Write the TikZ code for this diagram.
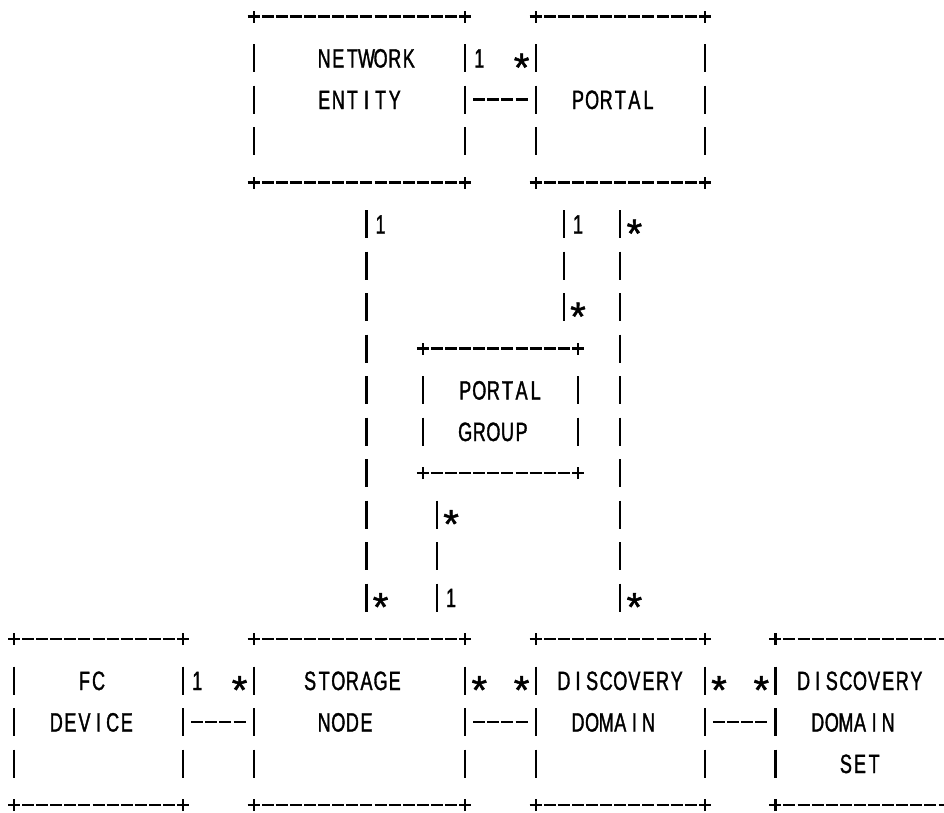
\documentclass[tikz,border=0pt]{standalone}
\usepackage{fontspec}
\newfontfamily\asciifont[FakeStretch=0.68,FakeBold=1.3]{Liberation Sans}
\newfontfamily\starfont[FakeBold=1.2]{Liberation Sans}
\newcommand\cells[1]{\cellsA#1\relax}
\def\cellsA#1{\ifx\relax#1\else\makebox[14.1pt][c]{#1}\expandafter\cellsA\fi}
\tikzset{
  gl/.style={line width=2.2pt, black},
  hdash/.style={gl, dash pattern=on 12pt off 2.1pt, shorten <=8.05pt, shorten >=8.05pt},
  vdash/.style={gl, dash pattern=on 28pt off 13.5pt, shorten <=27.5pt, shorten >=27.5pt},
  boxn/.style={draw=none, inner sep=0pt, outer sep=0pt, rectangle},
  txt/.style={inner sep=0pt, outer sep=0pt, font=\asciifont\fontsize{26.5}{26.5}\selectfont, anchor=base west},
  lab/.style={inner sep=0pt, outer sep=0pt, font=\asciifont\fontsize{26.5}{26.5}\selectfont, anchor=base},
  astl/.style={inner sep=0pt, outer sep=0pt, font=\starfont\fontsize{40}{40}\selectfont, anchor=base},
}
% name c1 r1 c2 r2
\newcommand\asciibox[5]{%
  \pgfmathsetmacro\bw{(#4-#2)*14.1}%
  \pgfmathsetmacro\bh{(#5-#3)*41.5}%
  \node[boxn, minimum width=\bw pt, minimum height=\bh pt] (#1) at ({14+14.1*(#2+#4)/2},{16.5+41.5*(#3+#5)/2}) {};
  \draw[hdash] (#1.north west) -- (#1.north east);
  \draw[hdash] (#1.south west) -- (#1.south east);
  \draw[vdash] (#1.north west) -- (#1.south west);
  \draw[vdash] (#1.north east) -- (#1.south east);
  \foreach \a in {north west, north east, south west, south east}
    {\draw[gl] (#1.\a) +(-6pt,0pt) -- +(6pt,0pt) +(0pt,-6pt) -- +(0pt,6pt);}
}
\newcommand\boxtext[4]{\node[txt] (#1) at ({14+14.1*(#2)-7.05},{16.5+41.5*(#3)+9.5}) {\cells{#4}};}
\newcommand\onelab[3]{\node[lab] (#1) at ({14+14.1*(#2)},{16.5+41.5*(#3)+9.5}) {1};}
\newcommand\astlab[3]{\node[astl] (#1) at ({14+14.1*(#2)},{16.5+41.5*(#3)+23.2}) {*};}
\begin{document}
\begin{tikzpicture}[x=1pt,y=-1pt]
\useasboundingbox (0,0) rectangle (944,812);
\fill[white] (0,0) rectangle (944,812);
% boxes
\asciibox{ne}{17}{0}{32}{4}
\asciibox{portal}{37}{0}{49}{4}
\asciibox{pg}{29}{8}{40}{11}
\asciibox{fc}{0}{15}{12}{19}
\asciibox{sn}{17}{15}{32}{19}
\asciibox{dd}{37}{15}{49}{19}
\asciibox{dds}{54}{15}{66}{19}
% box texts
\boxtext{t-ne1}{22}{1}{NETWORK}
\boxtext{t-ne2}{22}{2}{ENTITY}
\boxtext{t-po}{40}{2}{PORTAL}
\boxtext{t-pg1}{32}{9}{PORTAL}
\boxtext{t-pg2}{32}{10}{GROUP}
\boxtext{t-fc1}{5}{16}{FC}
\boxtext{t-fc2}{3}{17}{DEVICE}
\boxtext{t-sn1}{21}{16}{STORAGE}
\boxtext{t-sn2}{22}{17}{NODE}
\boxtext{t-dd1}{39}{16}{DISCOVERY}
\boxtext{t-dd2}{40}{17}{DOMAIN}
\boxtext{t-ds1}{56}{16}{DISCOVERY}
\boxtext{t-ds2}{57}{17}{DOMAIN}
\boxtext{t-ds3}{59}{18}{SET}
% connectors
\draw[hdash] (ne.east) -- (portal.west);
\draw[hdash] (fc.east) -- (sn.west);
\draw[hdash] (sn.east) -- (dd.west);
\draw[hdash] (dd.east) -- (dds.west);
\draw[vdash] ([xshift=7.05pt]ne.south) -- ([xshift=7.05pt]sn.north);
\draw[vdash] (portal.south) -- (dd.north);
\draw[vdash] ([xshift=-56.4pt]portal.south) -- ([xshift=-56.4pt]portal.south |- pg.north);
\draw[vdash] ([xshift=-63.45pt]pg.south) -- ([xshift=-63.45pt]pg.south |- sn.north);
% multiplicities
\onelab{m1}{33}{1}
\astlab{m2}{36}{1}
\onelab{m3}{26}{5}
\onelab{m4}{40}{5}
\astlab{m5}{44}{5}
\astlab{m6}{40}{7}
\astlab{m7}{31}{12}
\astlab{m8}{26}{14}
\onelab{m9}{31}{14}
\astlab{m10}{44}{14}
\onelab{m11}{13}{16}
\astlab{m12}{16}{16}
\astlab{m13}{33}{16}
\astlab{m14}{36}{16}
\astlab{m15}{50}{16}
\astlab{m16}{53}{16}
\end{tikzpicture}
\end{document}
